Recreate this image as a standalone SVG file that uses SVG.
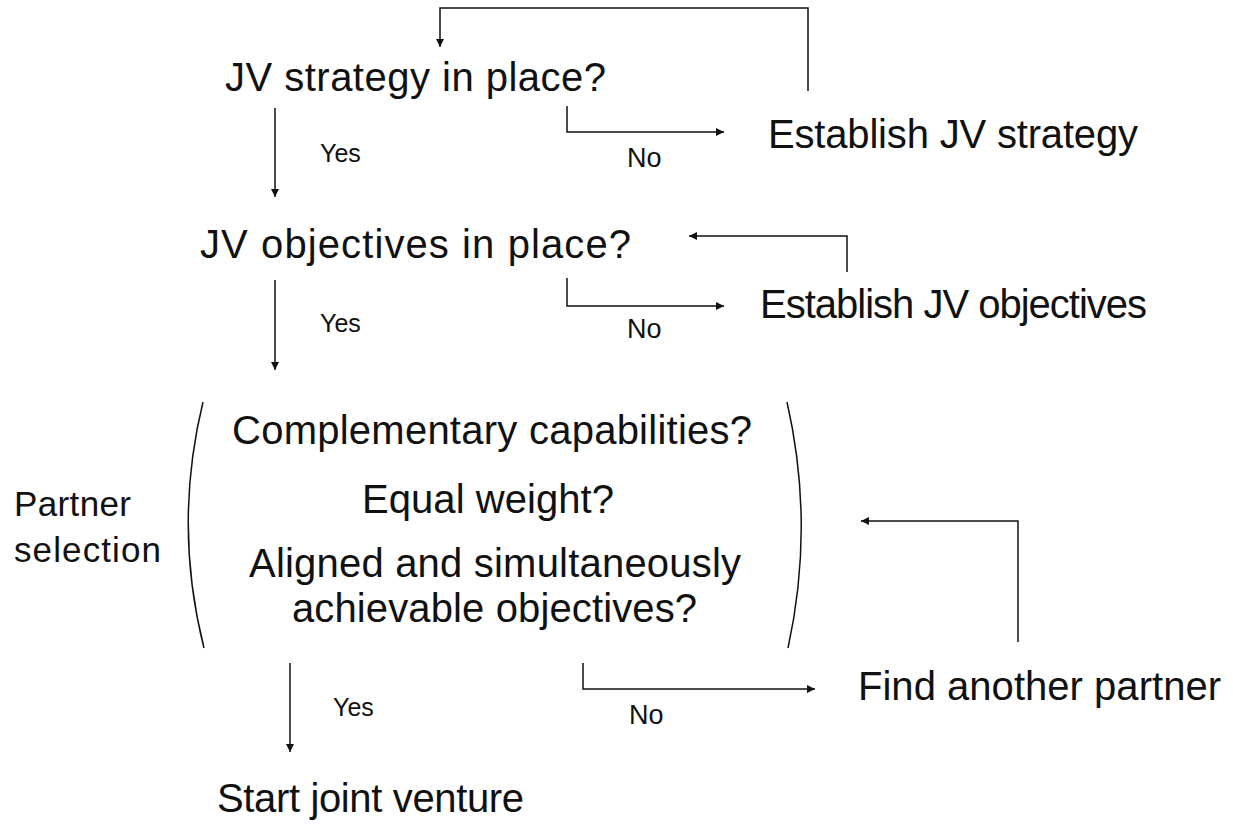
<svg xmlns="http://www.w3.org/2000/svg" width="1233" height="832" viewBox="0 0 1233 832">
  <style>
    .t { font-family: "Liberation Sans", Arial, sans-serif; fill: #111; }
    .big { font-size: 40px; }
    .mid { font-size: 35px; }
    .sm { font-size: 25px; }
    .no { font-size: 27px; }
    .ln { fill: none; stroke: #111; stroke-width: 1.5; }
    .arr { marker-end: url(#ah); }
  </style>
  <defs>
    <marker id="ah" viewBox="0 0 10 10" refX="10" refY="5" markerWidth="8" markerHeight="8" markerUnits="userSpaceOnUse" orient="auto">
      <path d="M0,0 L10,5 L0,10 z" fill="#111"/>
    </marker>
  </defs>
  <rect width="1233" height="832" fill="#fff"/>

  <g id="connectors">
    <!-- loop back from "Establish JV strategy" -->
    <path class="ln arr" d="M808,91 V8 H440 V47"/>
    <!-- strategy: yes / no -->
    <path class="ln arr" d="M275,108 V197"/>
    <path class="ln arr" d="M567,106 V132 H724"/>
    <!-- loop back from "Establish JV objectives" -->
    <path class="ln arr" d="M847,272 V236 H689"/>
    <!-- objectives: yes / no -->
    <path class="ln arr" d="M275,280 V370"/>
    <path class="ln arr" d="M567,278 V306 H724"/>
    <!-- loop back from "Find another partner" -->
    <path class="ln arr" d="M1018,642 V521 H861"/>
    <!-- partner selection: yes / no -->
    <path class="ln arr" d="M290,663 V752"/>
    <path class="ln arr" d="M583,663 V689 H815"/>
  </g>

  <g id="n-strategy"><text class="t big" x="225" y="91" textLength="381">JV strategy in place?</text></g>
  <g id="n-establish-strategy"><text class="t big" x="768" y="148" textLength="370">Establish JV strategy</text></g>
  <g id="n-objectives"><text class="t big" x="200" y="258" textLength="431">JV objectives in place?</text></g>
  <g id="n-establish-objectives"><text class="t big" x="760" y="318" textLength="387">Establish JV objectives</text></g>

  <g id="n-partner-selection">
    <path class="ln" d="M203,402 Q173,525 204,648"/>
    <path class="ln" d="M787,402 Q815,525 788,648"/>
    <text class="t big" x="232" y="444" textLength="520">Complementary capabilities?</text>
    <text class="t big" x="362" y="513" textLength="252">Equal weight?</text>
    <text class="t big" x="249" y="577" textLength="492">Aligned and simultaneously</text>
    <text class="t big" x="292" y="622" textLength="405">achievable objectives?</text>
  </g>
  <g id="n-partner-label">
    <text class="t mid" x="14" y="516" textLength="117">Partner</text>
    <text class="t mid" x="14" y="562" textLength="147">selection</text>
  </g>
  <g id="n-find-partner"><text class="t big" x="858" y="700" textLength="363">Find another partner</text></g>
  <g id="n-start"><text class="t big" x="217" y="812" textLength="307">Start joint venture</text></g>

  <g id="labels">
    <text class="t sm" x="320" y="162">Yes</text>
    <text class="t no" x="627" y="167">No</text>
    <text class="t sm" x="320" y="332">Yes</text>
    <text class="t no" x="627" y="338">No</text>
    <text class="t sm" x="333" y="716">Yes</text>
    <text class="t no" x="629" y="724">No</text>
  </g>
</svg>
